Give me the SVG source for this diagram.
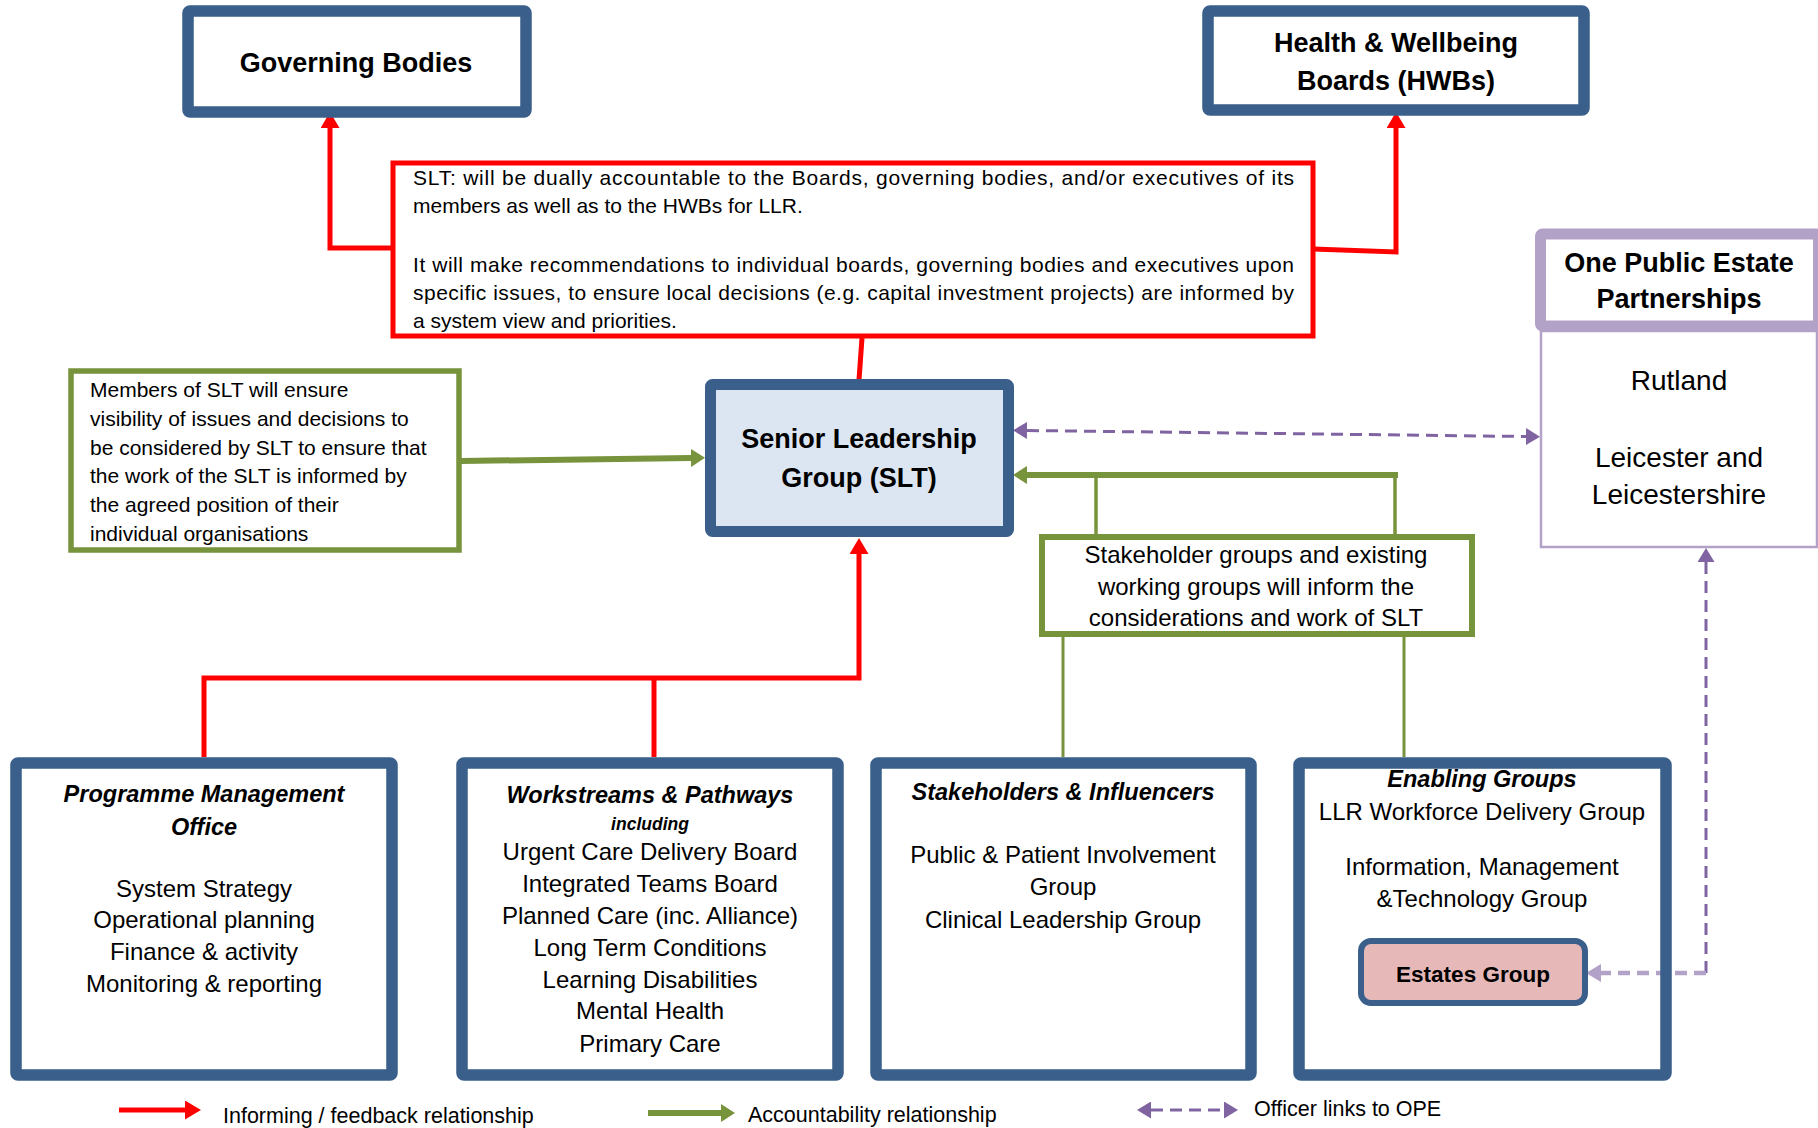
<svg xmlns="http://www.w3.org/2000/svg" width="1818" height="1128" viewBox="0 0 1818 1128">
<defs>
<style>
text{font-family:"Liberation Sans",Arial,sans-serif;fill:#000}
.t{font-size:27px;font-weight:bold;text-anchor:middle}
.b{font-size:21px}
.m{font-size:24px;text-anchor:middle}
.s{font-size:24px;text-anchor:middle}
.o{font-size:28px;text-anchor:middle}
.h{font-size:23.5px;font-weight:bold;font-style:italic;text-anchor:middle}
.lg{font-size:21.5px}
.blue{fill:none;stroke:#3A5F8B;stroke-width:11.5}
.red{fill:none;stroke:#FF0000;stroke-width:5}
.grn{fill:none;stroke:#77933C}
.pur{fill:none;stroke:#8064A2;stroke-width:3;stroke-dasharray:12 7}
.lav{fill:none;stroke:#B3A2C7;stroke-width:4.5;stroke-dasharray:12 7}
</style>
<marker id="aR" markerUnits="userSpaceOnUse" markerWidth="16" markerHeight="19" refX="0" refY="9.5" orient="auto"><path d="M0,0L16,9.5L0,19z" fill="#FF0000"/></marker>
<marker id="aG" markerUnits="userSpaceOnUse" markerWidth="14" markerHeight="18" refX="0" refY="9" orient="auto"><path d="M0,0L14,9L0,18z" fill="#77933C"/></marker>
<marker id="aP" markerUnits="userSpaceOnUse" markerWidth="14" markerHeight="17" refX="0" refY="8.5" orient="auto-start-reverse"><path d="M0,0L14,8.5L0,17z" fill="#8064A2"/></marker>
<marker id="aL" markerUnits="userSpaceOnUse" markerWidth="15" markerHeight="18" refX="0" refY="9" orient="auto"><path d="M0,0L15,9L0,18z" fill="#B3A2C7"/></marker>
</defs>
<rect width="1818" height="1128" fill="#fff"/>

<g id="connectors">
<path class="red" d="M393,248H330V128" marker-end="url(#aR)"/>
<path class="red" d="M1313,249L1396,252V128" marker-end="url(#aR)"/>
<path class="red" d="M862,338L859,380"/>
<path class="red" d="M204,757V678H859V554" marker-end="url(#aR)"/>
<path class="red" d="M654,757V678"/>
<path class="grn" stroke-width="6" d="M461,461L691,458" marker-end="url(#aG)"/>
<path class="grn" stroke-width="6" d="M1398,475H1027" marker-end="url(#aG)"/>
<path class="grn" stroke-width="3.5" d="M1096,475V534M1395,475V534"/>
<path class="grn" stroke-width="3" d="M1063,637V757M1404,637V757"/>
<path class="pur" d="M1027,430.5L1526,436.5" marker-start="url(#aP)" marker-end="url(#aP)"/>
<path class="pur" stroke="#9280B8" d="M1706,973V562" marker-end="url(#aP)"/>
<path class="lav" d="M1706,973H1601" marker-end="url(#aL)"/>
</g>

<g id="governing-bodies">
<rect class="blue" x="188" y="11" width="338" height="101" rx="2"/>
<text class="t" x="356" y="72">Governing Bodies</text>
</g>

<g id="hwb">
<rect class="blue" x="1208" y="11" width="376" height="99" rx="2"/>
<text class="t" x="1396" y="52">Health &amp; Wellbeing</text>
<text class="t" x="1396" y="90">Boards (HWBs)</text>
</g>

<g id="slt-note">
<rect x="393" y="163" width="920" height="173" fill="#fff" stroke="#FF0000" stroke-width="5"/>
<text class="b" x="413" y="185" textLength="881" lengthAdjust="spacing">SLT: will be dually accountable to the Boards, governing bodies, and/or executives of its</text>
<text class="b" x="413" y="213">members as well as to the HWBs for LLR.</text>
<text class="b" x="413" y="272" textLength="881" lengthAdjust="spacing">It will make recommendations to individual boards, governing bodies and executives upon</text>
<text class="b" x="413" y="300" textLength="881" lengthAdjust="spacing">specific issues, to ensure local decisions (e.g. capital investment projects) are informed by</text>
<text class="b" x="413" y="328">a system view and priorities.</text>
</g>

<g id="members-note">
<rect x="71" y="371" width="388" height="179" fill="#fff" stroke="#77933C" stroke-width="5.5"/>
<text class="b" x="90" y="397">Members of SLT will ensure</text>
<text class="b" x="90" y="426">visibility of issues and decisions to</text>
<text class="b" x="90" y="455">be considered by SLT to ensure that</text>
<text class="b" x="90" y="483">the work of the SLT is informed by</text>
<text class="b" x="90" y="512">the agreed position of their</text>
<text class="b" x="90" y="541">individual organisations</text>
</g>

<g id="slt">
<rect x="710.5" y="384.5" width="298" height="147" rx="2" fill="#DCE6F2" stroke="#3A5F8B" stroke-width="11"/>
<text class="t" x="859" y="448">Senior Leadership</text>
<text class="t" x="859" y="487">Group (SLT)</text>
</g>

<g id="ope">
<rect x="1541" y="331" width="276" height="216" fill="#fff" stroke="#B3A2C7" stroke-width="2.5"/>
<rect x="1540.5" y="234" width="278" height="92" rx="2" fill="#fff" stroke="#B3A2C7" stroke-width="11"/>
<text class="t" x="1679" y="272">One Public Estate</text>
<text class="t" x="1679" y="308">Partnerships</text>
<text class="o" x="1679" y="390">Rutland</text>
<text class="o" x="1679" y="467">Leicester and</text>
<text class="o" x="1679" y="504">Leicestershire</text>
</g>

<g id="stakeholder-note">
<rect x="1042" y="537" width="430" height="97" fill="#fff" stroke="#77933C" stroke-width="6"/>
<text class="s" x="1256" y="563">Stakeholder groups and existing</text>
<text class="s" x="1256" y="595">working groups will inform the</text>
<text class="s" x="1256" y="626">considerations and work of SLT</text>
</g>

<g id="pmo">
<rect class="blue" x="16" y="763" width="376" height="312" rx="2"/>
<text class="h" x="204" y="802">Programme Management</text>
<text class="h" x="204" y="835">Office</text>
<text class="m" x="204" y="897">System Strategy</text>
<text class="m" x="204" y="928">Operational planning</text>
<text class="m" x="204" y="960">Finance &amp; activity</text>
<text class="m" x="204" y="992">Monitoring &amp; reporting</text>
</g>

<g id="workstreams">
<rect class="blue" x="462" y="763" width="376" height="312" rx="2"/>
<text class="h" x="650" y="803">Workstreams &amp; Pathways</text>
<text class="h" x="650" y="830" style="font-size:17.5px">including</text>
<text class="m" x="650" y="860">Urgent Care Delivery Board</text>
<text class="m" x="650" y="892">Integrated Teams Board</text>
<text class="m" x="650" y="924">Planned Care (inc. Alliance)</text>
<text class="m" x="650" y="956">Long Term Conditions</text>
<text class="m" x="650" y="988">Learning Disabilities</text>
<text class="m" x="650" y="1019">Mental Health</text>
<text class="m" x="650" y="1052">Primary Care</text>
</g>

<g id="stakeholders">
<rect class="blue" x="876" y="763" width="375" height="312" rx="2"/>
<text class="h" x="1063" y="800">Stakeholders &amp; Influencers</text>
<text class="m" x="1063" y="863">Public &amp; Patient Involvement</text>
<text class="m" x="1063" y="895">Group</text>
<text class="m" x="1063" y="928">Clinical Leadership Group</text>
</g>

<g id="enabling">
<rect class="blue" x="1299" y="763" width="367" height="312" rx="2"/>
<text class="h" x="1482" y="787">Enabling Groups</text>
<text class="m" x="1482" y="820">LLR Workforce Delivery Group</text>
<text class="m" x="1482" y="875">Information, Management</text>
<text class="m" x="1482" y="907">&amp;Technology Group</text>
</g>

<g id="estates">
<rect x="1361" y="941" width="224" height="62" rx="10" fill="#E6B9B8" stroke="#3A5F8B" stroke-width="6"/>
<text x="1473" y="982" style="font-size:22.5px;font-weight:bold;text-anchor:middle">Estates Group</text>
</g>

<g id="legend">
<path class="red" stroke-width="6" d="M119,1110H185" marker-end="url(#aR)"/>
<text class="lg" x="223" y="1123">Informing / feedback relationship</text>
<path class="grn" stroke-width="6" d="M648,1113H721" marker-end="url(#aG)"/>
<text class="lg" x="748" y="1122">Accountability relationship</text>
<path class="pur" d="M1151,1110H1224" marker-start="url(#aP)" marker-end="url(#aP)"/>
<text class="lg" x="1254" y="1116">Officer links to OPE</text>
</g>
</svg>
